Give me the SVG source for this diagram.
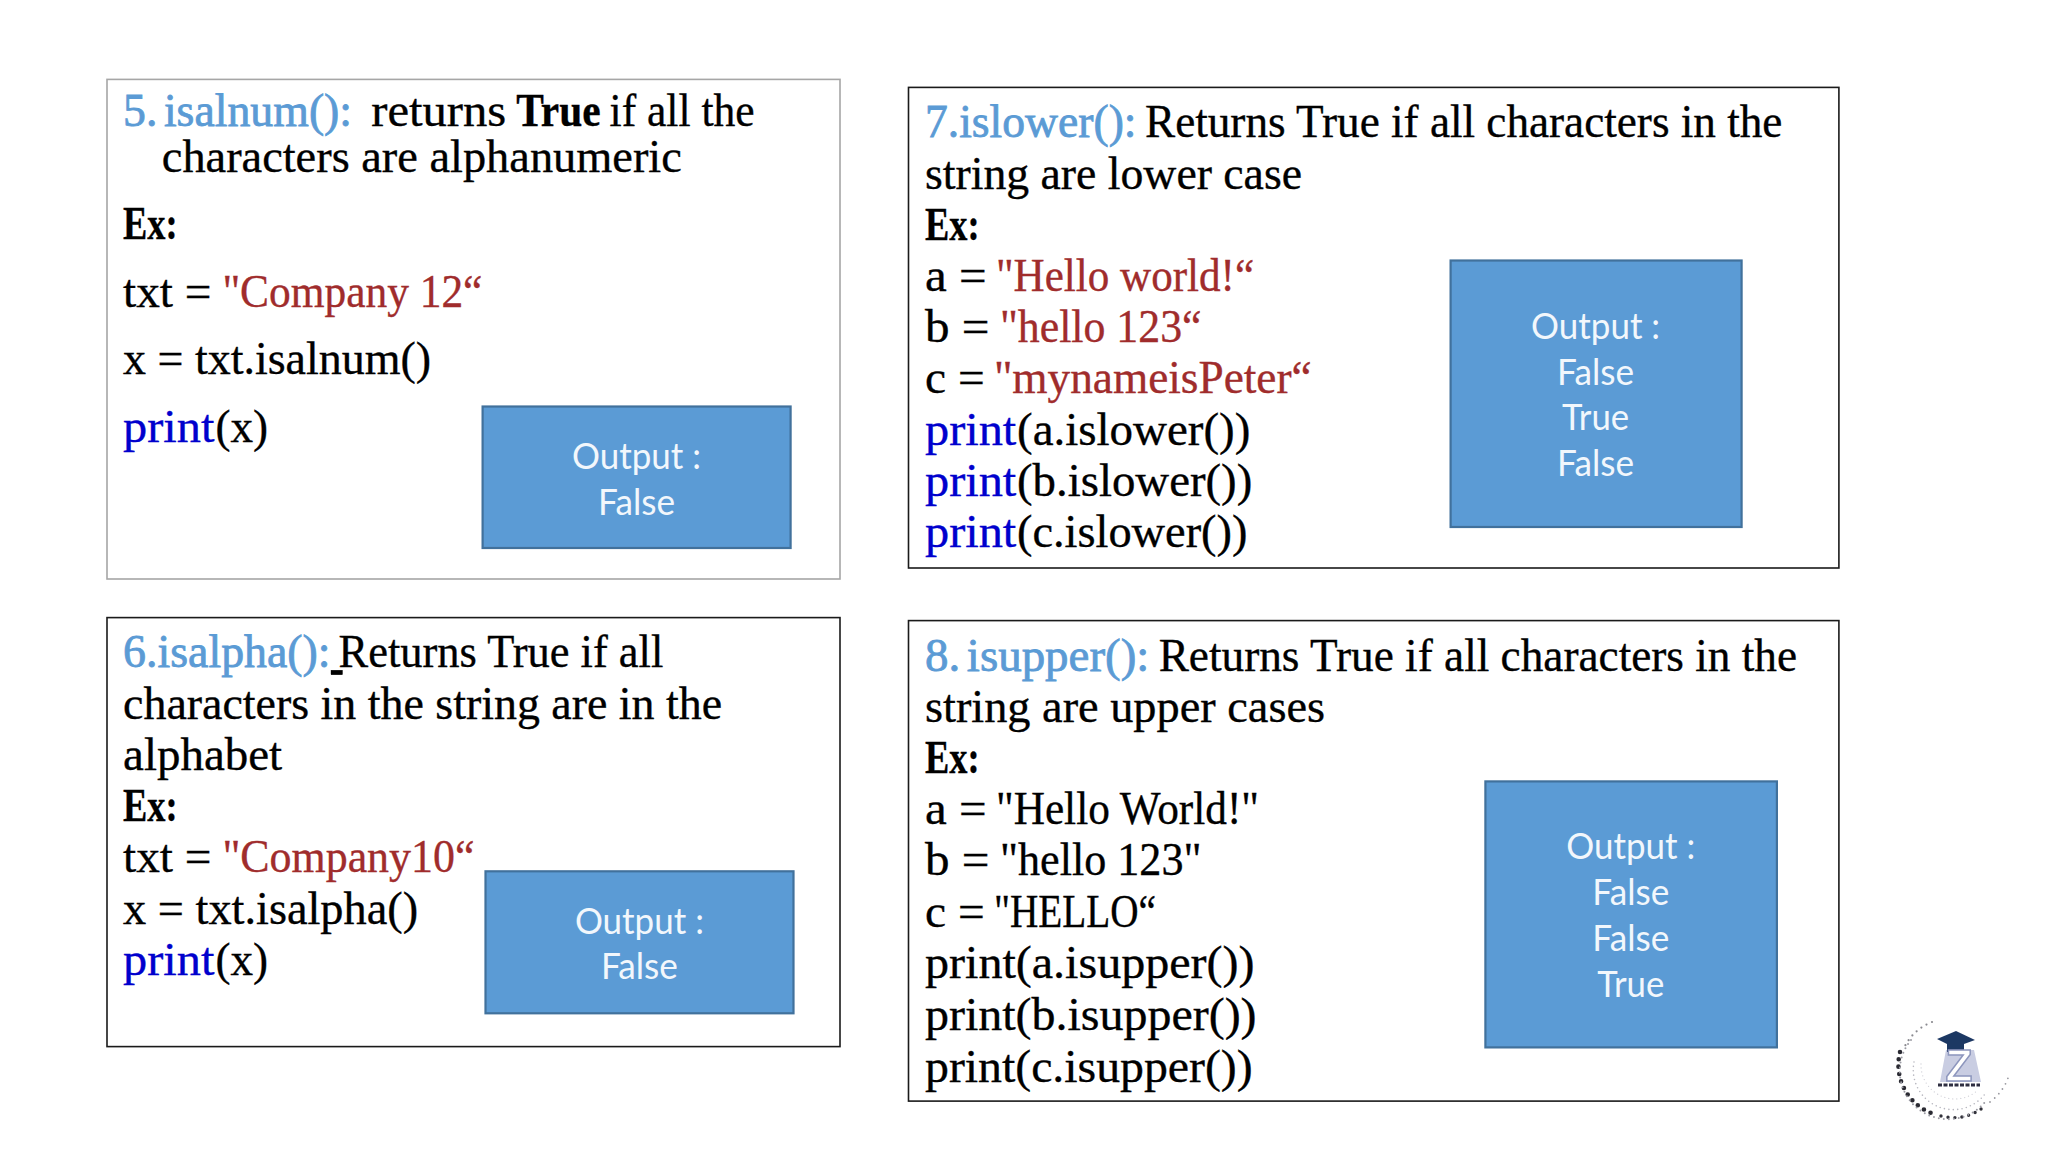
<svg xmlns="http://www.w3.org/2000/svg" width="2048" height="1152" viewBox="0 0 2048 1152">
<style>
.panel{fill:#fff;stroke:#1a1a1a;stroke-width:1.6}
.grey{stroke:#a6a6a6}
.out{fill:#5b9bd5;stroke:#41719c;stroke-width:2.2}
text{font-family:"Liberation Serif","Times New Roman",serif;font-size:46px;fill:#000;stroke:#000;stroke-width:.35;white-space:pre}
tspan.h{fill:#5b9bd5;stroke:#5b9bd5;stroke-width:.8;word-spacing:-5px}
.b{font-weight:bold}
tspan.s{fill:#a02c2c;stroke:#a02c2c}
tspan.k{fill:#0000cd;stroke:#0000cd}
text.o{font-family:Lato,"Open Sans",sans-serif;font-size:37px;fill:#f2f7fc;stroke:none;text-anchor:middle}
.dot{fill:none;stroke-linecap:round}
</style>
<defs><filter id="soft" x="-10%" y="-10%" width="120%" height="120%"><feGaussianBlur stdDeviation="0.6"/></filter></defs>
<rect width="2048" height="1152" fill="#fff"/>
<g id="connectors"/>
<g id="node-isalnum">
<rect class="panel grey" x="107" y="79.4" width="733" height="499.6"/>
<text y="126"><tspan class="h" x="123.1" textLength="229" lengthAdjust="spacingAndGlyphs">5. isalnum():</tspan><tspan x="371.3" textLength="135" lengthAdjust="spacingAndGlyphs">returns</tspan><tspan class="b" x="516.3" textLength="84.4" lengthAdjust="spacingAndGlyphs">True</tspan><tspan x="609.6" textLength="145" lengthAdjust="spacingAndGlyphs">if all the</tspan></text>
<text x="161.8" y="172" textLength="520" lengthAdjust="spacingAndGlyphs">characters are alphanumeric</text>
<text class="b" x="123.1" y="239" textLength="54.6" lengthAdjust="spacingAndGlyphs">Ex:</text>
<text y="306.5"><tspan x="123.1" textLength="88.4" lengthAdjust="spacingAndGlyphs">txt =</tspan><tspan class="s" x="222.4" textLength="260" lengthAdjust="spacingAndGlyphs">"Company 12“</tspan></text>
<text x="123.1" y="374" textLength="308" lengthAdjust="spacingAndGlyphs">x = txt.isalnum()</text>
<text y="441.5"><tspan class="k" x="123.1" textLength="91.3" lengthAdjust="spacingAndGlyphs">print</tspan><tspan x="215.5" textLength="52.6" lengthAdjust="spacingAndGlyphs">(x)</tspan></text>
<rect class="out" x="482.6" y="406.5" width="308" height="141.5"/>
<text class="o" x="636.5" y="469" textLength="129" lengthAdjust="spacingAndGlyphs">Output :</text>
<text class="o" x="636.5" y="514.5" textLength="77" lengthAdjust="spacingAndGlyphs">False</text>
</g>
<g id="node-isalpha">
<rect class="panel" x="107" y="617.6" width="733" height="429"/>
<text y="667.2"><tspan class="h" x="123.1" textLength="207.5" lengthAdjust="spacingAndGlyphs">6.isalpha():</tspan><tspan x="331" text-decoration="underline"> </tspan><tspan x="338.6" textLength="324.7" lengthAdjust="spacingAndGlyphs">Returns True if all</tspan></text>
<text x="123.1" y="719" textLength="599" lengthAdjust="spacingAndGlyphs">characters in the string are in the</text>
<text x="123.1" y="770" textLength="159" lengthAdjust="spacingAndGlyphs">alphabet</text>
<text class="b" x="123.1" y="821" textLength="54.6" lengthAdjust="spacingAndGlyphs">Ex:</text>
<text y="872.2"><tspan x="123.1" textLength="88.4" lengthAdjust="spacingAndGlyphs">txt =</tspan><tspan class="s" x="222.4" textLength="252" lengthAdjust="spacingAndGlyphs">"Company10“</tspan></text>
<text x="123.1" y="924.4" textLength="295" lengthAdjust="spacingAndGlyphs">x = txt.isalpha()</text>
<text y="975"><tspan class="k" x="123.1" textLength="91.3" lengthAdjust="spacingAndGlyphs">print</tspan><tspan x="215.5" textLength="52.6" lengthAdjust="spacingAndGlyphs">(x)</tspan></text>
<rect class="out" x="485.5" y="871.3" width="308" height="142"/>
<text class="o" x="639.4" y="933.5" textLength="129" lengthAdjust="spacingAndGlyphs">Output :</text>
<text class="o" x="639.4" y="979.2" textLength="77" lengthAdjust="spacingAndGlyphs">False</text>
</g>
<g id="node-islower">
<rect class="panel" x="908.5" y="87.4" width="930.4" height="480.6"/>
<text y="137.2"><tspan class="h" x="925" textLength="211.5" lengthAdjust="spacingAndGlyphs">7.islower():</tspan><tspan x="1145" textLength="637.4" lengthAdjust="spacingAndGlyphs">Returns True if all characters in the</tspan></text>
<text x="925" y="188.9" textLength="377" lengthAdjust="spacingAndGlyphs">string are lower case</text>
<text class="b" x="925" y="239.5" textLength="54.6" lengthAdjust="spacingAndGlyphs">Ex:</text>
<text y="291.2"><tspan x="925" textLength="61.6" lengthAdjust="spacingAndGlyphs">a =</tspan><tspan class="s" x="996" textLength="258" lengthAdjust="spacingAndGlyphs">"Hello world!“</tspan></text>
<text y="341.8"><tspan x="925" textLength="64.5" lengthAdjust="spacingAndGlyphs">b =</tspan><tspan class="s" x="999.9" textLength="201.6" lengthAdjust="spacingAndGlyphs">"hello 123“</tspan></text>
<text y="393.2"><tspan x="925" textLength="59.6" lengthAdjust="spacingAndGlyphs">c =</tspan><tspan class="s" x="993.9" textLength="317.7" lengthAdjust="spacingAndGlyphs">"mynameisPeter“</tspan></text>
<text y="445"><tspan class="k" x="925" textLength="91.3" lengthAdjust="spacingAndGlyphs">print</tspan><tspan x="1017" textLength="233.3" lengthAdjust="spacingAndGlyphs">(a.islower())</tspan></text>
<text y="495.7"><tspan class="k" x="925" textLength="91.3" lengthAdjust="spacingAndGlyphs">print</tspan><tspan x="1017" textLength="235.3" lengthAdjust="spacingAndGlyphs">(b.islower())</tspan></text>
<text y="547.2"><tspan class="k" x="925" textLength="91.3" lengthAdjust="spacingAndGlyphs">print</tspan><tspan x="1017" textLength="230.4" lengthAdjust="spacingAndGlyphs">(c.islower())</tspan></text>
<rect class="out" x="1450.6" y="260.5" width="291" height="266.5"/>
<text class="o" x="1595.6" y="338.8" textLength="129" lengthAdjust="spacingAndGlyphs">Output :</text>
<text class="o" x="1595.6" y="384.5" textLength="77" lengthAdjust="spacingAndGlyphs">False</text>
<text class="o" x="1595.6" y="430.2" textLength="67" lengthAdjust="spacingAndGlyphs">True</text>
<text class="o" x="1595.6" y="475.8" textLength="77" lengthAdjust="spacingAndGlyphs">False</text>
</g>
<g id="node-isupper">
<rect class="panel" x="908.5" y="620.6" width="930.4" height="480.5"/>
<text y="671.2"><tspan class="h" x="925" textLength="224.4" lengthAdjust="spacingAndGlyphs">8. isupper():</tspan><tspan x="1158.7" textLength="638.4" lengthAdjust="spacingAndGlyphs">Returns True if all characters in the</tspan></text>
<text x="925" y="722.2" textLength="400" lengthAdjust="spacingAndGlyphs">string are upper cases</text>
<text class="b" x="925" y="772.7" textLength="54.6" lengthAdjust="spacingAndGlyphs">Ex:</text>
<text y="824.2"><tspan x="925" textLength="61.6" lengthAdjust="spacingAndGlyphs">a =</tspan><tspan x="996" textLength="263" lengthAdjust="spacingAndGlyphs">"Hello World!"</tspan></text>
<text y="875"><tspan x="925" textLength="64.5" lengthAdjust="spacingAndGlyphs">b =</tspan><tspan x="1000" textLength="201.5" lengthAdjust="spacingAndGlyphs">"hello 123"</tspan></text>
<text y="926.6"><tspan x="925" textLength="59.6" lengthAdjust="spacingAndGlyphs">c =</tspan><tspan x="994" textLength="162" lengthAdjust="spacingAndGlyphs">"HELLO“</tspan></text>
<text x="925" y="978.2" textLength="329.6" lengthAdjust="spacingAndGlyphs">print(a.isupper())</text>
<text x="925" y="1029.8" textLength="331.6" lengthAdjust="spacingAndGlyphs">print(b.isupper())</text>
<text x="925" y="1081.5" textLength="327.7" lengthAdjust="spacingAndGlyphs">print(c.isupper())</text>
<rect class="out" x="1485.4" y="781.4" width="291.5" height="266"/>
<text class="o" x="1630.8" y="859.2" textLength="129" lengthAdjust="spacingAndGlyphs">Output :</text>
<text class="o" x="1630.8" y="905.2" textLength="77" lengthAdjust="spacingAndGlyphs">False</text>
<text class="o" x="1630.8" y="951.4" textLength="77" lengthAdjust="spacingAndGlyphs">False</text>
<text class="o" x="1630.8" y="997.2" textLength="67" lengthAdjust="spacingAndGlyphs">True</text>
</g>
<g id="logo" filter="url(#soft)">
<path class="dot" stroke="#8a8a90" stroke-width="2.2" stroke-dasharray="0 6" d="M1932 1022Q1912 1030 1903 1050"/>
<path class="dot" stroke="#2b2b33" stroke-width="4.6" stroke-dasharray="0 7.4" d="M1900 1052A52 52 0 0 0 1937 1115"/>
<path class="dot" stroke="#33333b" stroke-width="3.4" stroke-dasharray="0 7" d="M1941 1116Q1965 1122 1985 1106"/>
<path class="dot" stroke="#9a9aa0" stroke-width="1.8" stroke-dasharray="0 6" d="M1990 1102Q2003 1092 2008 1078"/>
<path class="dot" stroke="#9c9ca4" stroke-width="2" stroke-dasharray="0 5" d="M1911 1040A46 46 0 0 0 1985 1102"/>
<path class="dot" stroke="#b8b8c0" stroke-width="1.6" stroke-dasharray="0 4.4" d="M1914 1062A40 40 0 0 0 1985 1094"/>
<path class="dot" stroke="#cfcfd6" stroke-width="1.3" stroke-dasharray="0 4" d="M1921 1064A34 34 0 0 0 1978 1090"/>
<path d="M1946 1050H1974L1981 1082H1940Z" fill="#c9cde2"/>
<path d="M1956 1031L1975 1040L1964 1044V1052H1947V1044L1937 1039Z" fill="#1f3864"/>
<text x="1959" y="1081" text-anchor="middle" style="font-family:'Liberation Sans',sans-serif;font-size:44px;font-weight:bold;fill:#fff;stroke:#8d96bd;stroke-width:1.5">Z</text>
<path d="M1938 1085H1980" stroke="#2d2d40" stroke-width="3" stroke-dasharray="4 1.5" fill="none"/>
</g>
</svg>
